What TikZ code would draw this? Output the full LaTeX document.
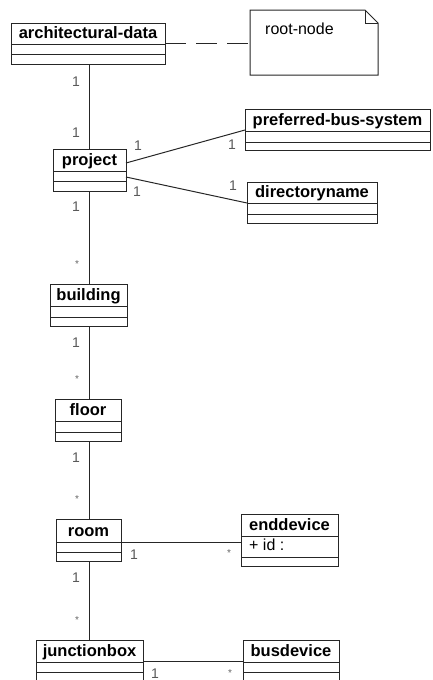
\documentclass[tikz,border=0pt]{standalone}
\usepackage{fontspec}
\setmainfont{Liberation Sans}
\usetikzlibrary{calc}

% UML class box: name, left, top, right, bottom, first rule, second rule, title
\newcommand{\umlclass}[8]{%
  \pgfmathsetmacro\umlW{#4-#2}\pgfmathsetmacro\umlH{#5-#3}%
  \pgfmathsetmacro\umlX{(#2+#4)/2}\pgfmathsetmacro\umlY{(#3+#5)/2}%
  \node[classbox, minimum width=\umlW pt, minimum height=\umlH pt] (#1) at (\umlX,\umlY) {};
  \node[classname] (#1-name) at (\umlX,#6-6) {#8};
  \draw[frame] (#2,#6) -- (#4,#6) (#2,#7) -- (#4,#7);
}

\begin{document}
\begin{tikzpicture}[x=1pt,y=-1pt,
  frame/.style={draw=black!85, line width=1pt},
  classbox/.style={frame, rectangle, inner sep=0pt, outer sep=0pt, fill=white},
  classname/.style={font=\fontsize{16.5}{19}\selectfont\bfseries, inner sep=0pt, anchor=base},
  attr/.style={font=\fontsize{16}{19}\selectfont, inner sep=0pt, anchor=base west},
  assoc/.style={draw=black!85, line width=1pt},
  mult/.style={font=\fontsize{14}{16}\selectfont, text=black!65, inner sep=0pt},
  many/.style={font=\fontsize{10}{12}\selectfont, text=black!60, inner sep=0pt},
]
\useasboundingbox (0,0) rectangle (432,680);
\clip (0,0) rectangle (432,680);

% classes
\umlclass{arch}{11}{23}{165}{64}{44}{54}{architectural-data}
\umlclass{proj}{53}{149}{126}{191}{171}{181}{project}
\umlclass{pbs}{245}{109}{430}{150}{131}{142}{preferred-bus-system}
\umlclass{dir}{247}{182}{377}{223}{203}{214}{directoryname}
\umlclass{bld}{50}{284}{127}{326}{306}{317}{building}
\umlclass{flr}{55}{399}{121}{441}{421}{432}{floor}
\umlclass{room}{56}{519}{121}{561}{542}{552}{room}
\umlclass{endd}{241}{514}{338}{566}{536}{557}{enddevice}
\umlclass{jb}{36}{640}{143}{684}{662}{672}{junctionbox}
\umlclass{bus}{243}{640}{339}{684}{662}{672}{busdevice}
\node[attr] (endd-id) at (249,550.5) {+ id :};

% note
\node[inner sep=0pt, outer sep=0pt, minimum width=128pt, minimum height=65pt] (note) at (314,42.5) {};
\draw[frame, fill=white] (note.north west) -- ([xshift=-13pt]note.north east)
  -- ([yshift=-13pt]note.north east) -- (note.south east) -- (note.south west) -- cycle;
\draw[frame] ([xshift=-13pt]note.north east) |- ([yshift=-13pt]note.north east);
\node[attr] (note-text) at (265,34.5) {root-node};
\draw[assoc, dash pattern=on 21pt off 10pt] (arch.east |- 0,43) -- (note.west |- 0,43);

% associations
\draw[assoc] (arch.south -| 89,0) -- (proj.north -| 89,0);
\draw[assoc] (proj.south -| 89,0) -- (bld.north -| 89,0);
\draw[assoc] (bld.south -| 89,0) -- (flr.north -| 89,0);
\draw[assoc] (flr.south -| 89,0) -- (room.north -| 89,0);
\draw[assoc] (room.south -| 89,0) -- (jb.north -| 89,0);
\draw[assoc] (proj.east |- 0,163) -- (pbs.west |- 0,130);
\draw[assoc] (proj.east |- 0,177) -- (dir.west |- 0,203);
\draw[assoc] (room.east |- 0,542) -- (endd.west |- 0,542);
\draw[assoc] (jb.east |- 0,661) -- (bus.west |- 0,661);

% multiplicities
\node[mult] (m1) at (76,82) {1};
\node[mult] (m2) at (76,133) {1};
\node[mult] (m3) at (138,146) {1};
\node[mult] (m4) at (232,145) {1};
\node[mult] (m5) at (137,192) {1};
\node[mult] (m6) at (233,186) {1};
\node[mult] (m7) at (76,207) {1};
\node[many] (m8) at (77,264) {*};
\node[mult] (m9) at (76,343) {1};
\node[many] (m10) at (77,379) {*};
\node[mult] (m11) at (76,458) {1};
\node[many] (m12) at (77,499) {*};
\node[mult] (m13) at (134,555) {1};
\node[many] (m14) at (229,553) {*};
\node[mult] (m15) at (76,578) {1};
\node[many] (m16) at (77,620) {*};
\node[mult] (m17) at (155,673.5) {1};
\node[many] (m18) at (230,673) {*};
\end{tikzpicture}
\end{document}
